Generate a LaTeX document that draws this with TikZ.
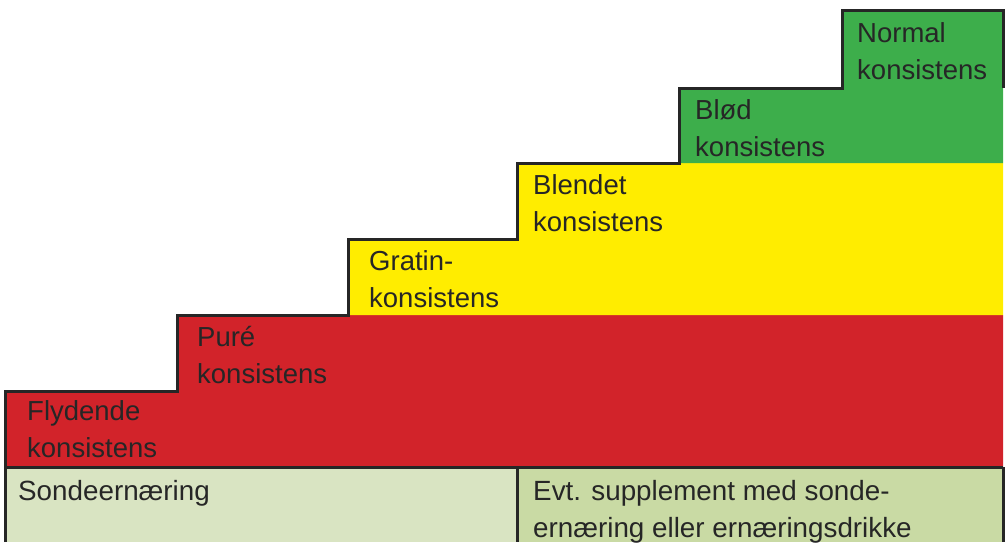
\documentclass[tikz,border=0pt]{standalone}
\usepackage{fontspec}
\setmainfont{Liberation Sans}
\usetikzlibrary{positioning, calc}

\definecolor{stepred}{HTML}{D2232A}
\definecolor{stepyellow}{HTML}{FFED00}
\definecolor{stepgreen}{HTML}{3DAE4B}
\definecolor{tubelight}{HTML}{D9E4C2}
\definecolor{tubedark}{HTML}{C9DAA4}
\definecolor{edgegray}{HTML}{262626}

\begin{document}
\begin{tikzpicture}[
  x=1pt, y=-1pt,
  steptext/.style = {anchor=base west, inner sep=0pt, align=left, text=edgegray,
                     font=\fontsize{27.5}{37}\selectfont},
  tubetext/.style = {steptext, font=\fontsize{27.8}{37}\selectfont},
  outline/.style  = {draw=edgegray, line width=3pt}
]
\useasboundingbox (0,0) rectangle (1008,542);

%--------------------------------------------------
% Colour bands (red, yellow, green)
%--------------------------------------------------
\fill[stepred]    (5,391) -- (177,391) -- (177,315) -- (1003,315) -- (1003,467) -- (5,467) -- cycle;
\fill[stepyellow] (348,239) -- (517,239) -- (517,163) -- (1003,163) -- (1003,315) -- (348,315) -- cycle;
\fill[stepgreen]  (679,88) -- (842,88) -- (842,10) -- (1003,10) -- (1003,163) -- (679,163) -- cycle;

% bottom row
\fill[tubelight] (5,467) rectangle (517,542);
\fill[tubedark]  (517,467) rectangle (1003,542);

%--------------------------------------------------
% Outlines
%--------------------------------------------------
\draw[outline] (5,542) |- (177,391) |- (348,315) |- (517,239) |- (679,163)
  |- (842,88) |- (1003,10) -- (1003,88);
\draw[outline] (5,467) -- (1003,467);
\draw[outline] (517,467) -- (517,542);
\draw[outline] (1003,467) -- (1003,542);

%--------------------------------------------------
% Labels (base = baseline of the last line)
%--------------------------------------------------
\node[steptext] (flydende) at (27,457)  {Flydende\\konsistens};
\node[steptext] (pure)     at (197,383) {Puré\\konsistens};
\node[steptext] (gratin)   at (369,307) {Gratin-\\konsistens};
\node[steptext] (blendet)  at (533,231) {Blendet\\konsistens};
\node[steptext] (blod)     at (695,156) {Blød\\konsistens};
\node[steptext] (normal)   at (857,79)  {Normal\\konsistens};

\node[tubetext] (sonde)      at (18,500)  {Sondeernæring};
\node[tubetext] (supplement) at (533,537) {Evt. supplement med sonde-\\ernæring eller ernæringsdrikke};

\end{tikzpicture}
\end{document}
